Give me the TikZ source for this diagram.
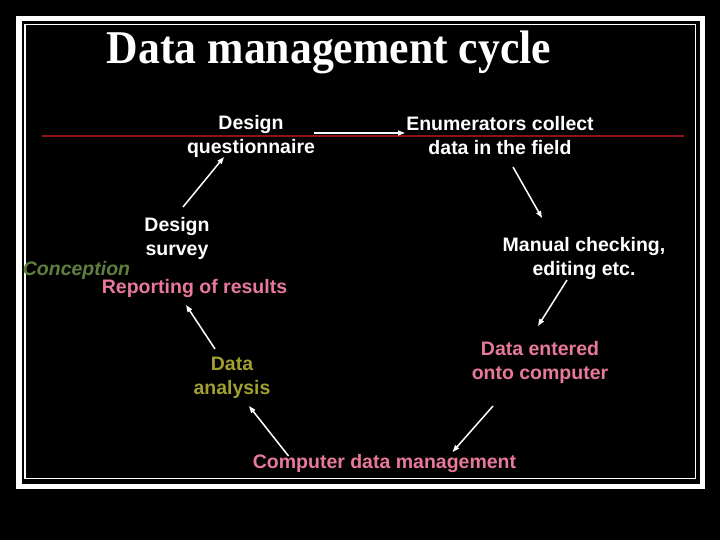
\documentclass[tikz,border=0pt]{standalone}
\usepackage{fontspec}
\setmainfont{Liberation Sans}
\newfontfamily\titlefont{Liberation Serif}
\usetikzlibrary{arrows.meta}
\definecolor{redline}{HTML}{8B1414}
\definecolor{pinktxt}{HTML}{E8799A}
\definecolor{greentxt}{HTML}{5F7F3F}
\definecolor{olivetxt}{HTML}{A0A030}
\tikzset{
  lbl/.style={inner sep=0pt, align=center, font=\fontsize{19.5}{24}\selectfont\bfseries, text=white},
  arr/.style={draw=white, line width=1.5pt, -{Triangle[length=7pt,width=5pt]}},
}
\begin{document}
\begin{tikzpicture}[x=1pt,y=-1pt]
\fill[black] (0,0) rectangle (720,540);
\useasboundingbox (0,0) rectangle (720,540);
\draw[white, line width=5.5pt] (18.75,18.75) rectangle (702.25,486.25);
\draw[white, line width=1.5pt] (24.75,24.75) rectangle (695.25,478.25);
\draw[redline, line width=2pt] (42,136.5) -- (684,136.5);
\node[anchor=base, inner sep=0pt, text=white, font=\fontsize{47}{50}\selectfont\titlefont\bfseries] (title) at (329,64) {\scalebox{0.93}[1]{Data management cycle}};
\node[lbl] (dq) at (251,136) {Design\\questionnaire};
\node[lbl] (en) at (500,136) {Enumerators collect\\data in the field};
\node[lbl] (ds) at (177,238) {Design\\survey};
\node[lbl] (mc) at (584,259) {Manual checking,\\editing etc.};
\node[lbl, text=pinktxt] (de) at (540,362) {Data entered\\onto computer};
\node[lbl, text=pinktxt, anchor=base] (cdm) at (384.5,468) {Computer data management};
\node[lbl, text=olivetxt] (da) at (232,378) {Data\\analysis};
\node[lbl, text=pinktxt, anchor=base] (rep) at (194.5,293) {Reporting of results};
\node[lbl, text=greentxt, anchor=base, font=\fontsize{19.5}{24}\selectfont\bfseries\itshape] (con) at (76.5,275) {Conception};
\draw[arr] ([shift={(63,-3)}]dq.center) -- ([shift={(-95,-3)}]en.center);
\draw[arr] ([shift={(13,31)}]en.center) -- ([shift={(-42,-41)}]mc.center);
\draw[arr] ([shift={(-17,21)}]mc.center) -- ([shift={(-2,-36)}]de.center);
\draw[arr] ([shift={(-47,44)}]de.center) -- ([shift={(68,-16)}]cdm.base);
\draw[arr] ([shift={(-96,-12)}]cdm.base) -- ([shift={(17,28)}]da.center);
\draw[arr] ([shift={(-17,-29)}]da.center) -- ([shift={(-8.5,12)}]rep.base);
\draw[arr] ([shift={(6,-31)}]ds.center) -- ([shift={(-27,21)}]dq.center);
\end{tikzpicture}
\end{document}
